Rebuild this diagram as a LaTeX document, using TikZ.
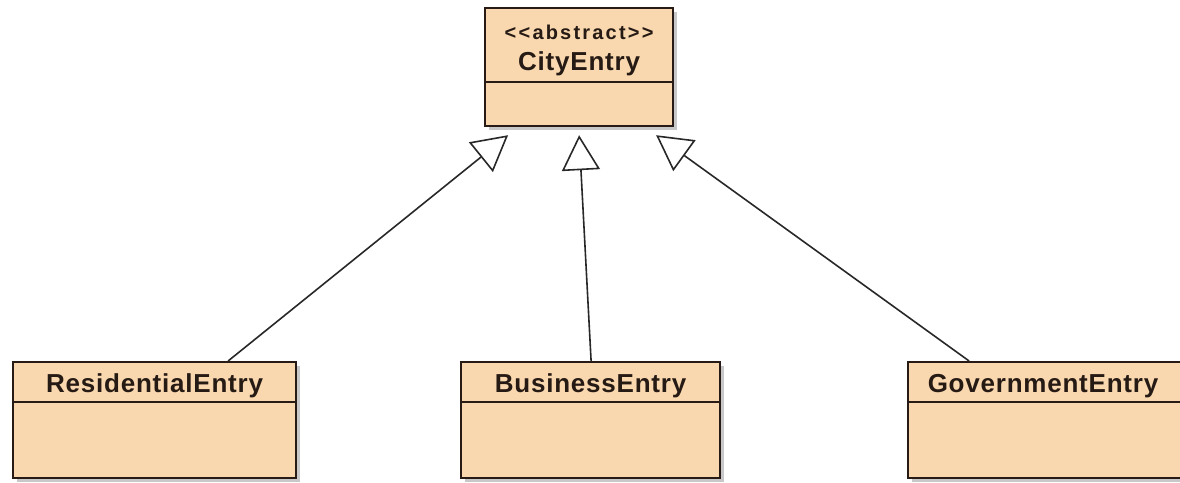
\documentclass[tikz,border=0pt]{standalone}
\usepackage{fontspec}
\usetikzlibrary{arrows.meta,shadows,calc}
\newfontfamily\umlfont[LetterSpace=3]{Liberation Sans}
\newfontfamily\umlstereo[LetterSpace=11]{Liberation Sans}
\definecolor{umlfill}{RGB}{249,216,175}
\definecolor{umlborder}{RGB}{40,26,20}
\definecolor{umlshadow}{RGB}{200,200,200}
\definecolor{umltext}{RGB}{38,26,20}
\definecolor{umlline}{RGB}{40,40,40}
\tikzset{
  classbox/.style={rectangle, draw=umlborder, line width=2.2pt, fill=umlfill,
    inner sep=0pt, anchor=north west,
    drop shadow={shadow xshift=4pt, shadow yshift=-4pt, fill=umlshadow, opacity=1}},
  divider/.style={draw=umlborder, line width=2.2pt},
  classname/.style={anchor=base, inner sep=0pt, text=umltext,
    font=\umlfont\bfseries\fontsize{26}{30}\selectfont},
  stereotype/.style={anchor=base, inner sep=0pt, text=umltext,
    font=\umlstereo\bfseries\fontsize{20}{24}\selectfont},
  generalization/.style={draw=umlline, line width=1.6pt,
    -{Triangle[open, length=35pt, width=38pt, line width=1.6pt, fill=white]}},
}
\begin{document}
\begin{tikzpicture}[x=1pt, y=-1pt]
  \useasboundingbox (0,0) rectangle (1180,482);
  \begin{scope}
    \clip (0,0) rectangle (1180,482);

    % abstract parent class
    \node[classbox, minimum width=188pt, minimum height=118pt] (city) at (484,7) {};
    \draw[divider] ([yshift=-75pt]city.north west) -- ([yshift=-75pt]city.north east);
    \node[stereotype] (cityster) at ([yshift=-32pt]city.north) {<<abstract>>};
    \node[classname] (cityname) at ([yshift=-63pt]city.north) {CityEntry};

    % concrete subclasses
    \node[classbox, minimum width=283pt, minimum height=116pt] (res) at (12,361) {};
    \draw[divider] ([yshift=-41pt]res.north west) -- ([yshift=-41pt]res.north east);
    \node[classname] (resname) at ([yshift=-31pt]res.north) {ResidentialEntry};

    \node[classbox, minimum width=259pt, minimum height=116pt] (bus) at (460,361) {};
    \draw[divider] ([yshift=-41pt]bus.north west) -- ([yshift=-41pt]bus.north east);
    \node[classname] (busname) at ([yshift=-31pt]bus.north) {BusinessEntry};

    \node[classbox, minimum width=280pt, minimum height=116pt] (gov) at (907,361) {};
    \draw[divider] ([yshift=-41pt]gov.north west) -- ([yshift=-41pt]gov.north east);
    \node[classname] (govname) at ([yshift=-31pt]gov.north west) [xshift=136pt] {GovernmentEntry};

    % inheritance arrows
    \draw[generalization] ($(res.north)+(73.5,0)$) -- ($(city.south)+(-71,8)$);
    \draw[generalization] ($(bus.north)+(0.5,0)$) -- ($(city.south)+(0,8)$);
    \draw[generalization] ($(gov.north)+(-79,0)$) -- ($(city.south)+(77,8)$);
  \end{scope}
\end{tikzpicture}
\end{document}
